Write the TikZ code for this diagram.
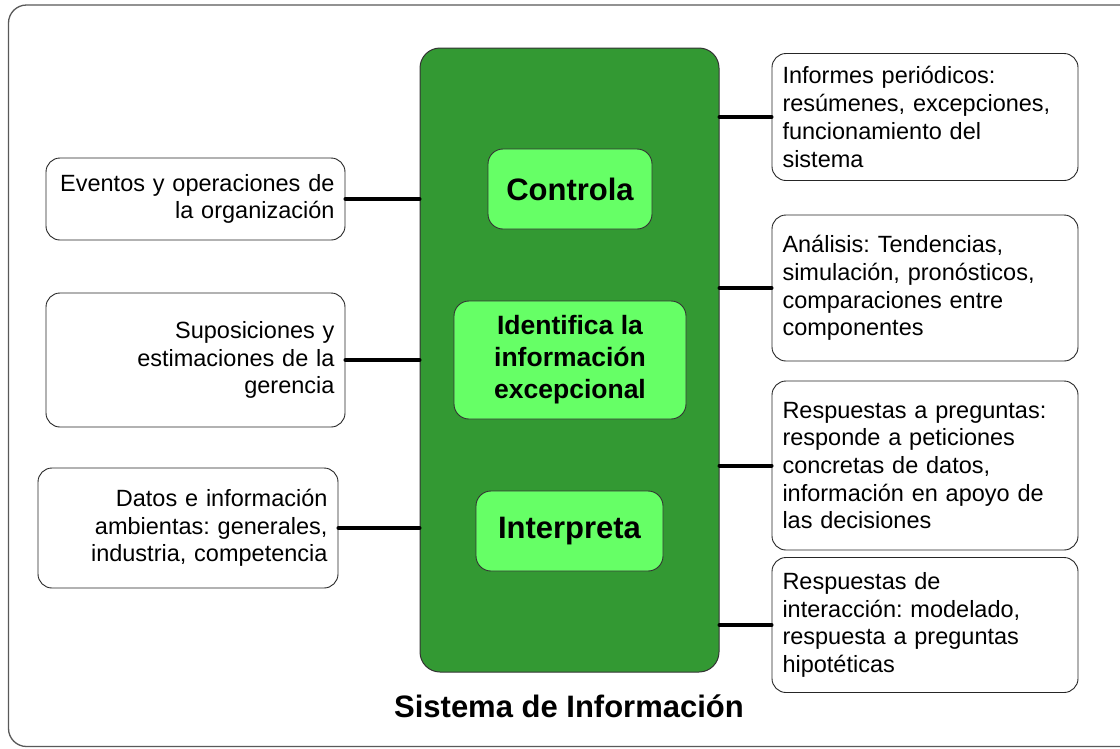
\documentclass[tikz,border=0pt]{standalone}
\usepackage{fontspec}
\setmainfont{Liberation Sans}
\frenchspacing
\definecolor{darkgreen}{HTML}{339933}
\definecolor{lightgreen}{HTML}{66FF66}
\begin{document}
\begin{tikzpicture}[x=1pt,y=-1pt,
  frame/.style={draw=black!65,line width=1.3pt,rounded corners=18pt},
  bigbox/.style={draw=black!80,line width=1pt,fill=darkgreen,rounded corners=20pt},
  inbox/.style={draw=black!80,line width=0.9pt,fill=lightgreen,rounded corners=15pt,inner sep=0pt},
  txtbox/.style={draw=black!85,line width=0.9pt,fill=white,rounded corners=14pt,inner xsep=10.5pt,inner ysep=0pt,font=\fontsize{23.5}{27.7}\selectfont},
  leftbox/.style={txtbox,align=right},
  rightbox/.style={txtbox,align=left},
  conn/.style={line width=4pt,line cap=round,draw=black}
]
\useasboundingbox (0,0) rectangle (1120,748);
\fill[white] (0,0) rectangle (1120,748);
\draw[frame] (1180,5) -- (8.5,5) -- (8.5,746.5) -- (1180,746.5);

% central system box
\node[bigbox,minimum width=299pt,minimum height=624pt,inner sep=0pt] (G) at (569.5,360) {};

\node[inbox,minimum width=164pt,minimum height=80pt,font=\fontsize{31}{36}\selectfont\bfseries] (C) at (570,189) {Controla};
\node[inbox,minimum width=232pt,minimum height=118pt,align=center,font=\fontsize{26.5}{32}\selectfont\bfseries] (I) at (570,360) {Identifica la\\información\\excepcional};
\node[inbox,minimum width=187pt,minimum height=80pt,font=\fontsize{31}{36}\selectfont\bfseries] (P) at (569.5,531) {Interpreta};

% left boxes
\node[leftbox,minimum width=299pt,minimum height=82pt,text width=278pt] (L1) at (195.5,199) {Eventos y operaciones de\\la organización};
\node[leftbox,minimum width=299pt,minimum height=134pt,text width=278pt] (L2) at (195.5,360) {Suposiciones y\\estimaciones de la\\gerencia};
\node[leftbox,minimum width=300pt,minimum height=120pt,text width=279pt] (L3) at (188,528) {Datos e información\\ambientas: generales,\\industria, competencia};

% right boxes
\node[rightbox,minimum width=306pt,minimum height=127pt,text width=285pt] (R1) at (925,117) {Informes periódicos:\\resúmenes, excepciones,\\funcionamiento del\\sistema};
\node[rightbox,minimum width=306pt,minimum height=146pt,text width=285pt] (R2) at (925,288) {Análisis: Tendencias,\\simulación, pronósticos,\\comparaciones entre\\componentes};
\node[rightbox,minimum width=306pt,minimum height=169pt,text width=285pt] (R3) at (925,465.5) {Respuestas a preguntas:\\responde a peticiones\\concretas de datos,\\información en apoyo de\\las decisiones};
\node[rightbox,minimum width=306pt,minimum height=135pt,text width=285pt] (R4) at (925,625) {Respuestas de\\interacción: modelado,\\respuesta a preguntas\\hipotéticas};

% connectors
\draw[conn] (L1.east) -- (G.west |- L1.east);
\draw[conn] (L2.east) -- (G.west |- L2.east);
\draw[conn] (L3.east) -- (G.west |- L3.east);
\draw[conn] (G.east |- R1.west) -- (R1.west);
\draw[conn] (G.east |- R2.west) -- (R2.west);
\draw[conn] (G.east |- R3.west) -- (R3.west);
\draw[conn] (G.east |- R4.west) -- (R4.west);

% title
\node[font=\fontsize{31}{36}\selectfont\bfseries] (T) at (569,706) {Sistema de Información};
\end{tikzpicture}
\end{document}
